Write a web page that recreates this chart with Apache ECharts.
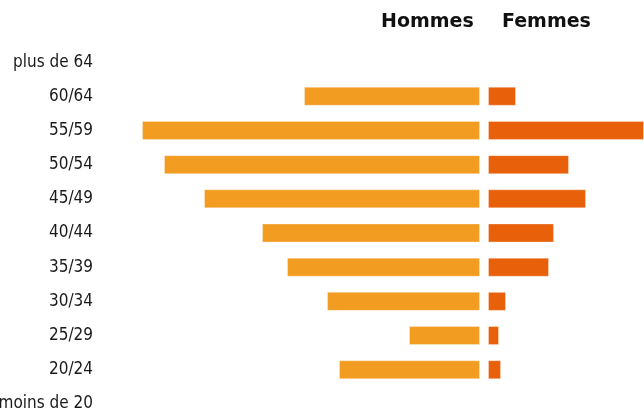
<!DOCTYPE html>
<html>
<head>
<meta charset="utf-8">
<script src="https://cdn.jsdelivr.net/npm/echarts@6/dist/echarts.min.js"></script>
<style>
  html, body { margin: 0; padding: 0; background: #fff; }
  #chart { width: 644px; height: 412px; }
</style>
</head>
<body>
<div id="chart"></div>
<script>
// age bands, bottom to top (first category sits at the bottom)
const AGES = ['moins de 20', '20/24', '25/29', '30/34', '35/39', '40/44', '45/49', '50/54', '55/59', '60/64', 'plus de 64']
const HOMMES = [0, 141, 71, 153, 193, 218, 276, 316, 338, 176, 0]
const FEMMES = [0, 13, 11, 18, 61, 66, 98, 81, 156, 28, 0]

const FONT = '"DejaVu Sans Condensed", "DejaVu Sans", sans-serif'
const HEAD_FONT = 'bold 19px "DejaVu Sans", sans-serif'
const C_H = '#F29C21'
const C_F = '#E8610A'

const chart = echarts.init(document.getElementById('chart'), null, { renderer: 'canvas' })

chart.setOption({
  backgroundColor: '#fff',
  animation: false,
  graphic: [
    { type: 'text', left: 381, top: 13, style: { text: 'Hommes', font: HEAD_FONT, fill: '#111' } },
    { type: 'text', left: 502, top: 13, style: { text: 'Femmes', font: HEAD_FONT, fill: '#111' } },
  ],
  // outerBoundsMode none: v6 would otherwise shrink the grid to keep "moins de 20" inside
  grid: [
    { left: 100, width: 380, top: 45, bottom: -9, outerBoundsMode: 'none' },
    { left: 488, width: 156, top: 45, bottom: -9, outerBoundsMode: 'none' },
  ],
  xAxis: [
    { gridIndex: 0, type: 'value', min: 0, max: 380, inverse: true, show: false },
    { gridIndex: 1, type: 'value', min: 0, max: 156, show: false },
  ],
  yAxis: [
    {
      gridIndex: 0, type: 'category', data: AGES, position: 'left',
      axisLine: { show: false }, axisTick: { show: false }, splitLine: { show: false },
      axisLabel: { margin: 7, color: '#1a1a1a', fontFamily: FONT, fontSize: 17 },
    },
    {
      gridIndex: 1, type: 'category', data: AGES, show: false,
    },
  ],
  series: [
    {
      name: 'Hommes', type: 'bar', xAxisIndex: 0, yAxisIndex: 0,
      data: HOMMES, barWidth: 19,
      itemStyle: { color: C_H, borderColor: 'rgba(255,255,255,0.3)', borderWidth: 1 },
    },
    {
      name: 'Femmes', type: 'bar', xAxisIndex: 1, yAxisIndex: 1,
      data: FEMMES, barWidth: 19,
      itemStyle: { color: C_F, borderColor: 'rgba(255,255,255,0.3)', borderWidth: 1 },
    },
  ],
})
</script>
</body>
</html>
